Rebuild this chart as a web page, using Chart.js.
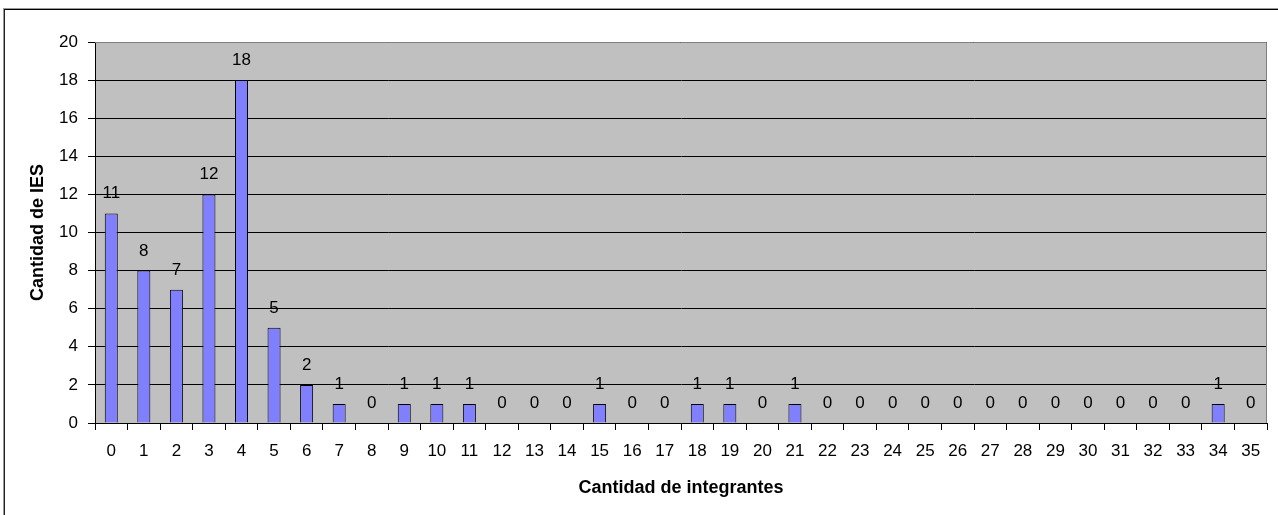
<!DOCTYPE html>
<html>
<head>
<meta charset="utf-8">
<script src="https://cdn.jsdelivr.net/npm/chart.js@4"></script>
<style>
  html, body { margin: 0; padding: 0; background: #fff; }
  #wrap { position: relative; width: 1278px; height: 515px; overflow: hidden; }
  #frame { position: absolute; left: 4px; top: 9px; width: 1400px; height: 600px;
           border-left: 1px solid #222; border-top: 1px solid #000; box-shadow: -1px -1px 0 #999; }
  canvas { position: absolute; left: 0; top: 0; }
</style>
</head>
<body>
<div id="wrap">
  <div id="frame"></div>
  <canvas id="c" width="1278" height="515"></canvas>
</div>
<script>
const categories = ["0","1","2","3","4","5","6","7","8","9","10","11","12","13","14","15","16","17","18","19","20","21","22","23","24","25","26","27","28","29","30","31","32","33","34","35"];
const iesCount = [11,8,7,12,18,5,2,1,0,1,1,1,0,0,0,1,0,0,1,1,0,1,0,0,0,0,0,0,0,0,0,0,0,0,1,0];
const yTitle = "Cantidad de IES";
const xTitle = "Cantidad de integrantes";

const FONT = "'Liberation Sans', Arial, sans-serif";

const plotBg = {
  id: 'plotBg',
  beforeDraw(chart) {
    const {ctx, chartArea: a} = chart;
    ctx.save();
    ctx.fillStyle = '#C0C0C0';
    ctx.fillRect(a.left, a.top, a.right - a.left, a.bottom - a.top);
    ctx.restore();
  },
  afterDraw(chart) {
    const {ctx, chartArea: a} = chart;
    ctx.save();
    ctx.strokeStyle = '#808080';
    ctx.lineWidth = 1;
    ctx.beginPath();
    ctx.moveTo(a.left, a.top + 0.5);
    ctx.lineTo(a.right - 0.5, a.top + 0.5);
    ctx.lineTo(a.right - 0.5, a.bottom);
    ctx.stroke();
    ctx.restore();
  }
};

const valueLabels = {
  id: 'valueLabels',
  afterDatasetsDraw(chart) {
    const {ctx} = chart;
    const meta = chart.getDatasetMeta(0);
    ctx.save();
    ctx.font = '17px ' + FONT;
    ctx.fillStyle = '#000';
    ctx.textAlign = 'center';
    ctx.textBaseline = 'alphabetic';
    meta.data.forEach((bar, i) => {
      ctx.fillText(String(iesCount[i]), bar.x, bar.y - 15);
    });
    ctx.restore();
  }
};

new Chart(document.getElementById('c'), {
  type: 'bar',
  data: {
    labels: categories,
    datasets: [{
      data: iesCount,
      backgroundColor: '#8080FF',
      borderColor: '#000',
      borderWidth: 1,
      barPercentage: 0.4,
      categoryPercentage: 1.0
    }]
  },
  options: {
    responsive: false,
    animation: false,
    layout: { padding: { left: 0, top: 42, right: 11, bottom: 0 } },
    plugins: { legend: { display: false }, tooltip: { enabled: false } },
    scales: {
      x: {
        afterFit(s) { s.height = 92; },
        grid: { display: true, drawOnChartArea: false, drawTicks: true, tickLength: 7, color: '#000', offset: true },
        border: { color: '#000' },
        ticks: { color: '#000', font: { family: FONT, size: 17 }, padding: 11, maxRotation: 0, autoSkip: false },
        title: { display: true, text: xTitle, color: '#000', font: { family: FONT, size: 18, weight: 'bold' }, padding: { top: 0, bottom: 16 } }
      },
      y: {
        min: 0, max: 20,
        afterFit(s) { s.width = 95; },
        grid: { color: '#000', tickLength: 7, drawTicks: true },
        border: { color: '#000' },
        ticks: { stepSize: 2, color: '#000', font: { family: FONT, size: 17 }, padding: 10 },
        title: { display: true, text: yTitle, color: '#000', font: { family: FONT, size: 18, weight: 'bold' }, padding: { top: 27, bottom: 0 } }
      }
    }
  },
  plugins: [plotBg, valueLabels]
});
</script>
</body>
</html>
